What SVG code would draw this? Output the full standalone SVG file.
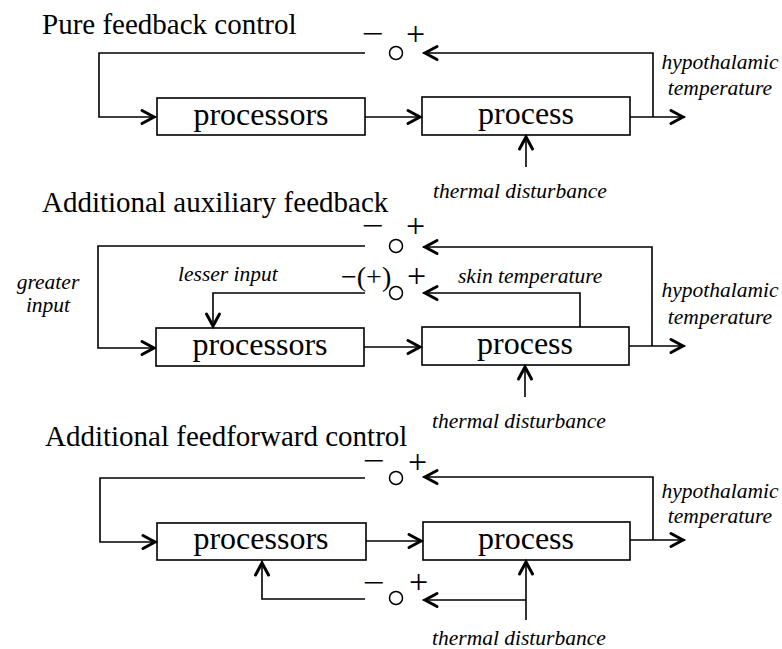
<svg xmlns="http://www.w3.org/2000/svg" width="782" height="649" viewBox="0 0 782 649">
<defs>
<style>
.title{font-family:"Liberation Serif","Times New Roman",serif;font-size:29px;fill:#000}
.box{fill:#fff;stroke:#000;stroke-width:1.6}
.bt{font-family:"Liberation Serif","Times New Roman",serif;font-size:32px;fill:#000;text-anchor:middle}
.it{font-family:"Liberation Serif","Times New Roman",serif;font-size:21.5px;font-style:italic;fill:#000}
.sg{font-family:"Liberation Serif","Times New Roman",serif;font-size:28px;fill:#000}
.pl{font-family:"Liberation Serif","Times New Roman",serif;font-size:34px;fill:#000}
.mn{font-family:"Liberation Serif","Times New Roman",serif;font-size:10px;fill:#000;stroke:#000;stroke-width:1}
.ln{fill:none;stroke:#000;stroke-width:1.6}
.ar{marker-end:url(#ah)}
.sum{fill:none;stroke:#000;stroke-width:1.5}
</style>
<marker id="ah" markerUnits="userSpaceOnUse" markerWidth="20" markerHeight="20" refX="0" refY="0" orient="auto" overflow="visible">
<path d="M-14,-6.5 L-2,0 L-14,6.5" fill="none" stroke="#000" stroke-width="3" stroke-linecap="round"/>
</marker>
</defs>
<rect width="782" height="649" fill="#fff"/>

<!-- Panel 1 -->
<text class="title" x="42" y="34">Pure feedback control</text>
<g id="p1-processors"><rect class="box" x="157" y="98" width="208" height="37"/><text class="bt" x="261" y="125">processors</text></g>
<g id="p1-process"><rect class="box" x="422" y="97" width="208" height="38"/><text class="bt" x="526" y="124">process</text></g>
<g id="p1-sum"><circle class="sum" cx="396" cy="53" r="6.5"/><text class="mn" x="364" y="36.5" textLength="18" lengthAdjust="spacingAndGlyphs">−</text><text class="pl" x="406" y="45">+</text></g>
<g id="p1-labels">
<text class="it" x="720" y="69" text-anchor="middle">hypothalamic</text>
<text class="it" x="720" y="95" text-anchor="middle">temperature</text>
<text class="it" x="433" y="198">thermal disturbance</text>
</g>
<g id="p1-connectors">
<path class="ln ar" d="M365,53 H99 V117 H156"/>
<path class="ln ar" d="M365,117 H422"/>
<path class="ln ar" d="M630,117 H685"/>
<path class="ln ar" d="M653,117 V53 H423"/>
<path class="ln ar" d="M526,167 V135"/>
</g>

<!-- Panel 2 -->
<text class="title" x="42" y="212">Additional auxiliary feedback</text>
<g id="p2-processors"><rect class="box" x="156" y="328" width="208" height="38"/><text class="bt" x="260" y="355">processors</text></g>
<g id="p2-process"><rect class="box" x="422" y="327" width="207" height="38"/><text class="bt" x="525" y="354">process</text></g>
<g id="p2-sum1"><circle class="sum" cx="396" cy="246" r="6.5"/><text class="mn" x="364" y="228.5" textLength="18" lengthAdjust="spacingAndGlyphs">−</text><text class="pl" x="406" y="237">+</text></g>
<g id="p2-sum2"><circle class="sum" cx="396" cy="293" r="6.5"/><text class="sg" x="341" y="286">−(+)</text><text class="pl" x="407" y="287">+</text></g>
<g id="p2-labels">
<text class="it" x="48" y="289" text-anchor="middle">greater</text>
<text class="it" x="48" y="312" text-anchor="middle">input</text>
<text class="it" x="178" y="281">lesser input</text>
<text class="it" x="458" y="283">skin temperature</text>
<text class="it" x="720" y="297" text-anchor="middle">hypothalamic</text>
<text class="it" x="720" y="324" text-anchor="middle">temperature</text>
<text class="it" x="432" y="428">thermal disturbance</text>
</g>
<g id="p2-connectors">
<path class="ln ar" d="M365,246 H98 V348 H156"/>
<path class="ln ar" d="M365,293 H213 V328"/>
<path class="ln ar" d="M364,347 H422"/>
<path class="ln ar" d="M629,346 H685"/>
<path class="ln ar" d="M652,346 V247 H423"/>
<path class="ln ar" d="M580,327 V293 H423"/>
<path class="ln ar" d="M525,397 V365"/>
</g>

<!-- Panel 3 -->
<text class="title" x="45" y="446">Additional feedforward control</text>
<g id="p3-processors"><rect class="box" x="157" y="523" width="209" height="37"/><text class="bt" x="261" y="549">processors</text></g>
<g id="p3-process"><rect class="box" x="423" y="522" width="207" height="38"/><text class="bt" x="526" y="549">process</text></g>
<g id="p3-sum1"><circle class="sum" cx="396" cy="478" r="6.5"/><text class="mn" x="365" y="463.5" textLength="18" lengthAdjust="spacingAndGlyphs">−</text><text class="pl" x="408" y="473">+</text></g>
<g id="p3-sum2"><circle class="sum" cx="396" cy="598" r="6.5"/><text class="mn" x="365" y="585.5" textLength="18" lengthAdjust="spacingAndGlyphs">−</text><text class="pl" x="409" y="593">+</text></g>
<g id="p3-labels">
<text class="it" x="720" y="498" text-anchor="middle">hypothalamic</text>
<text class="it" x="720" y="523" text-anchor="middle">temperature</text>
<text class="it" x="432" y="645">thermal disturbance</text>
</g>
<g id="p3-connectors">
<path class="ln ar" d="M365,478 H100 V542 H157"/>
<path class="ln ar" d="M366,541 H423"/>
<path class="ln ar" d="M630,540 H685"/>
<path class="ln ar" d="M653,540 V477 H423"/>
<path class="ln ar" d="M365,599 H262 V561"/>
<path class="ln ar" d="M526,620 V560"/>
<path class="ln ar" d="M526,600 H423"/>
</g>
</svg>
